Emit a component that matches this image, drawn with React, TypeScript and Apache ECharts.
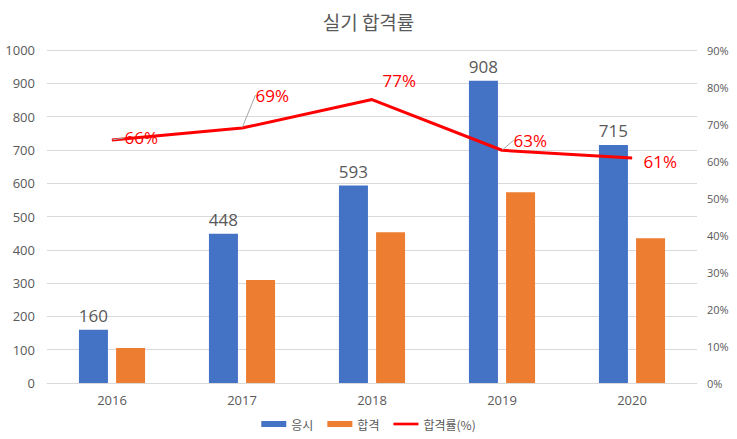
import React, { useEffect, useRef } from "react";
import * as echarts from "echarts";

const categories = ["2016", "2017", "2018", "2019", "2020"];
const applicants = [160, 448, 593, 908, 715];
const passed = [105, 309, 453, 573, 435];
const passRate = [65.7, 68.9, 76.6, 62.9, 60.8];
const rateLabels = ["66%", "69%", "77%", "63%", "61%"];
const leftTicks = { min: 0, max: 1000, interval: 100 };
const rightTicks = { min: 0, max: 90, interval: 10 };

const labelShift = [
  [12, -2],
  [13, -33],
  [10, -19],
  [11, -10],
  [11, 3],
];
const showLeader = [true, true, false, true, false];

const FONT = "'Open Sans', 'Noto Sans CJK KR', sans-serif";

export default function App() {
  const ref = useRef<HTMLDivElement>(null);
  useEffect(() => {
    if (!ref.current) return;
    const chart = echarts.init(ref.current, undefined, { renderer: "svg" });
    chart.setOption({
      animation: false,
      backgroundColor: "#ffffff",
      textStyle: { fontFamily: FONT },
      title: {
        text: "실기 합격률",
        left: "center",
        top: 7,
        textStyle: { fontSize: 19, fontWeight: "normal", color: "#595959", fontFamily: "'Noto Sans CJK KR', sans-serif" },
      },
      legend: {
        bottom: 4,
        left: "center",
        itemWidth: 25,
        itemHeight: 6,
        itemGap: 14,
        textStyle: { fontSize: 12, color: "#595959", fontFamily: "'Noto Sans CJK KR', sans-serif" },
        data: [
          { name: "응시", icon: "rect" },
          { name: "합격", icon: "rect" },
          { name: "합격률(%)", icon: "path://M0,0H28V3H0Z" },
        ],
      },
      grid: { left: 47, right: 40, top: 50, bottom: 56, containLabel: false },
      xAxis: {
        type: "category",
        data: categories,
        axisTick: { show: false },
        axisLine: { lineStyle: { color: "#d9d9d9" } },
        axisLabel: { color: "#595959", fontSize: 13, margin: 10 },
      },
      yAxis: [
        {
          type: "value",
          ...leftTicks,
          axisLine: { show: false },
          axisTick: { show: false },
          splitLine: { lineStyle: { color: "#d9d9d9" } },
          axisLabel: { color: "#595959", fontSize: 13, margin: 12, formatter: (v: number) => String(v) },
        },
        {
          type: "value",
          ...rightTicks,
          position: "right",
          axisLine: { show: false },
          axisTick: { show: false },
          splitLine: { show: false },
          axisLabel: { color: "#595959", fontSize: 11, margin: 10, formatter: "{value}%" },
        },
      ],
      series: [
        {
          name: "응시",
          type: "bar",
          data: applicants,
          barWidth: 29,
          barGap: "28%",
          itemStyle: { color: "#4472C4" },
          label: { show: true, position: "top", distance: 6, color: "#595959", fontSize: 17 },
        },
        {
          name: "합격",
          type: "bar",
          data: passed,
          barWidth: 29,
          barGap: "28%",
          itemStyle: { color: "#ED7D31" },
        },
        {
          name: "합격률(%)",
          type: "line",
          yAxisIndex: 1,
          data: passRate.map((v, i) => ({ value: v, labelLine: { show: showLeader[i] } })),
          symbol: "circle",
          symbolSize: 1,
          showSymbol: true,
          lineStyle: { color: "#FF0000", width: 3 },
          itemStyle: { color: "#FF0000" },
          label: {
            show: true,
            position: "right",
            distance: 0,
            color: "#FF0000",
            fontSize: 17,
            formatter: (p: any) => rateLabels[p.dataIndex],
          },
          labelLine: { show: true, lineStyle: { color: "#a6a6a6", width: 1 } },
          labelLayout: (p: any) => ({ dx: labelShift[p.dataIndex][0], dy: labelShift[p.dataIndex][1] }),
          z: 5,
        },
      ],
    });
    return () => chart.dispose();
  }, []);
  return <div ref={ref} style={{ position: "fixed", left: 0, top: 0, width: 737, height: 439 }} />;
}
